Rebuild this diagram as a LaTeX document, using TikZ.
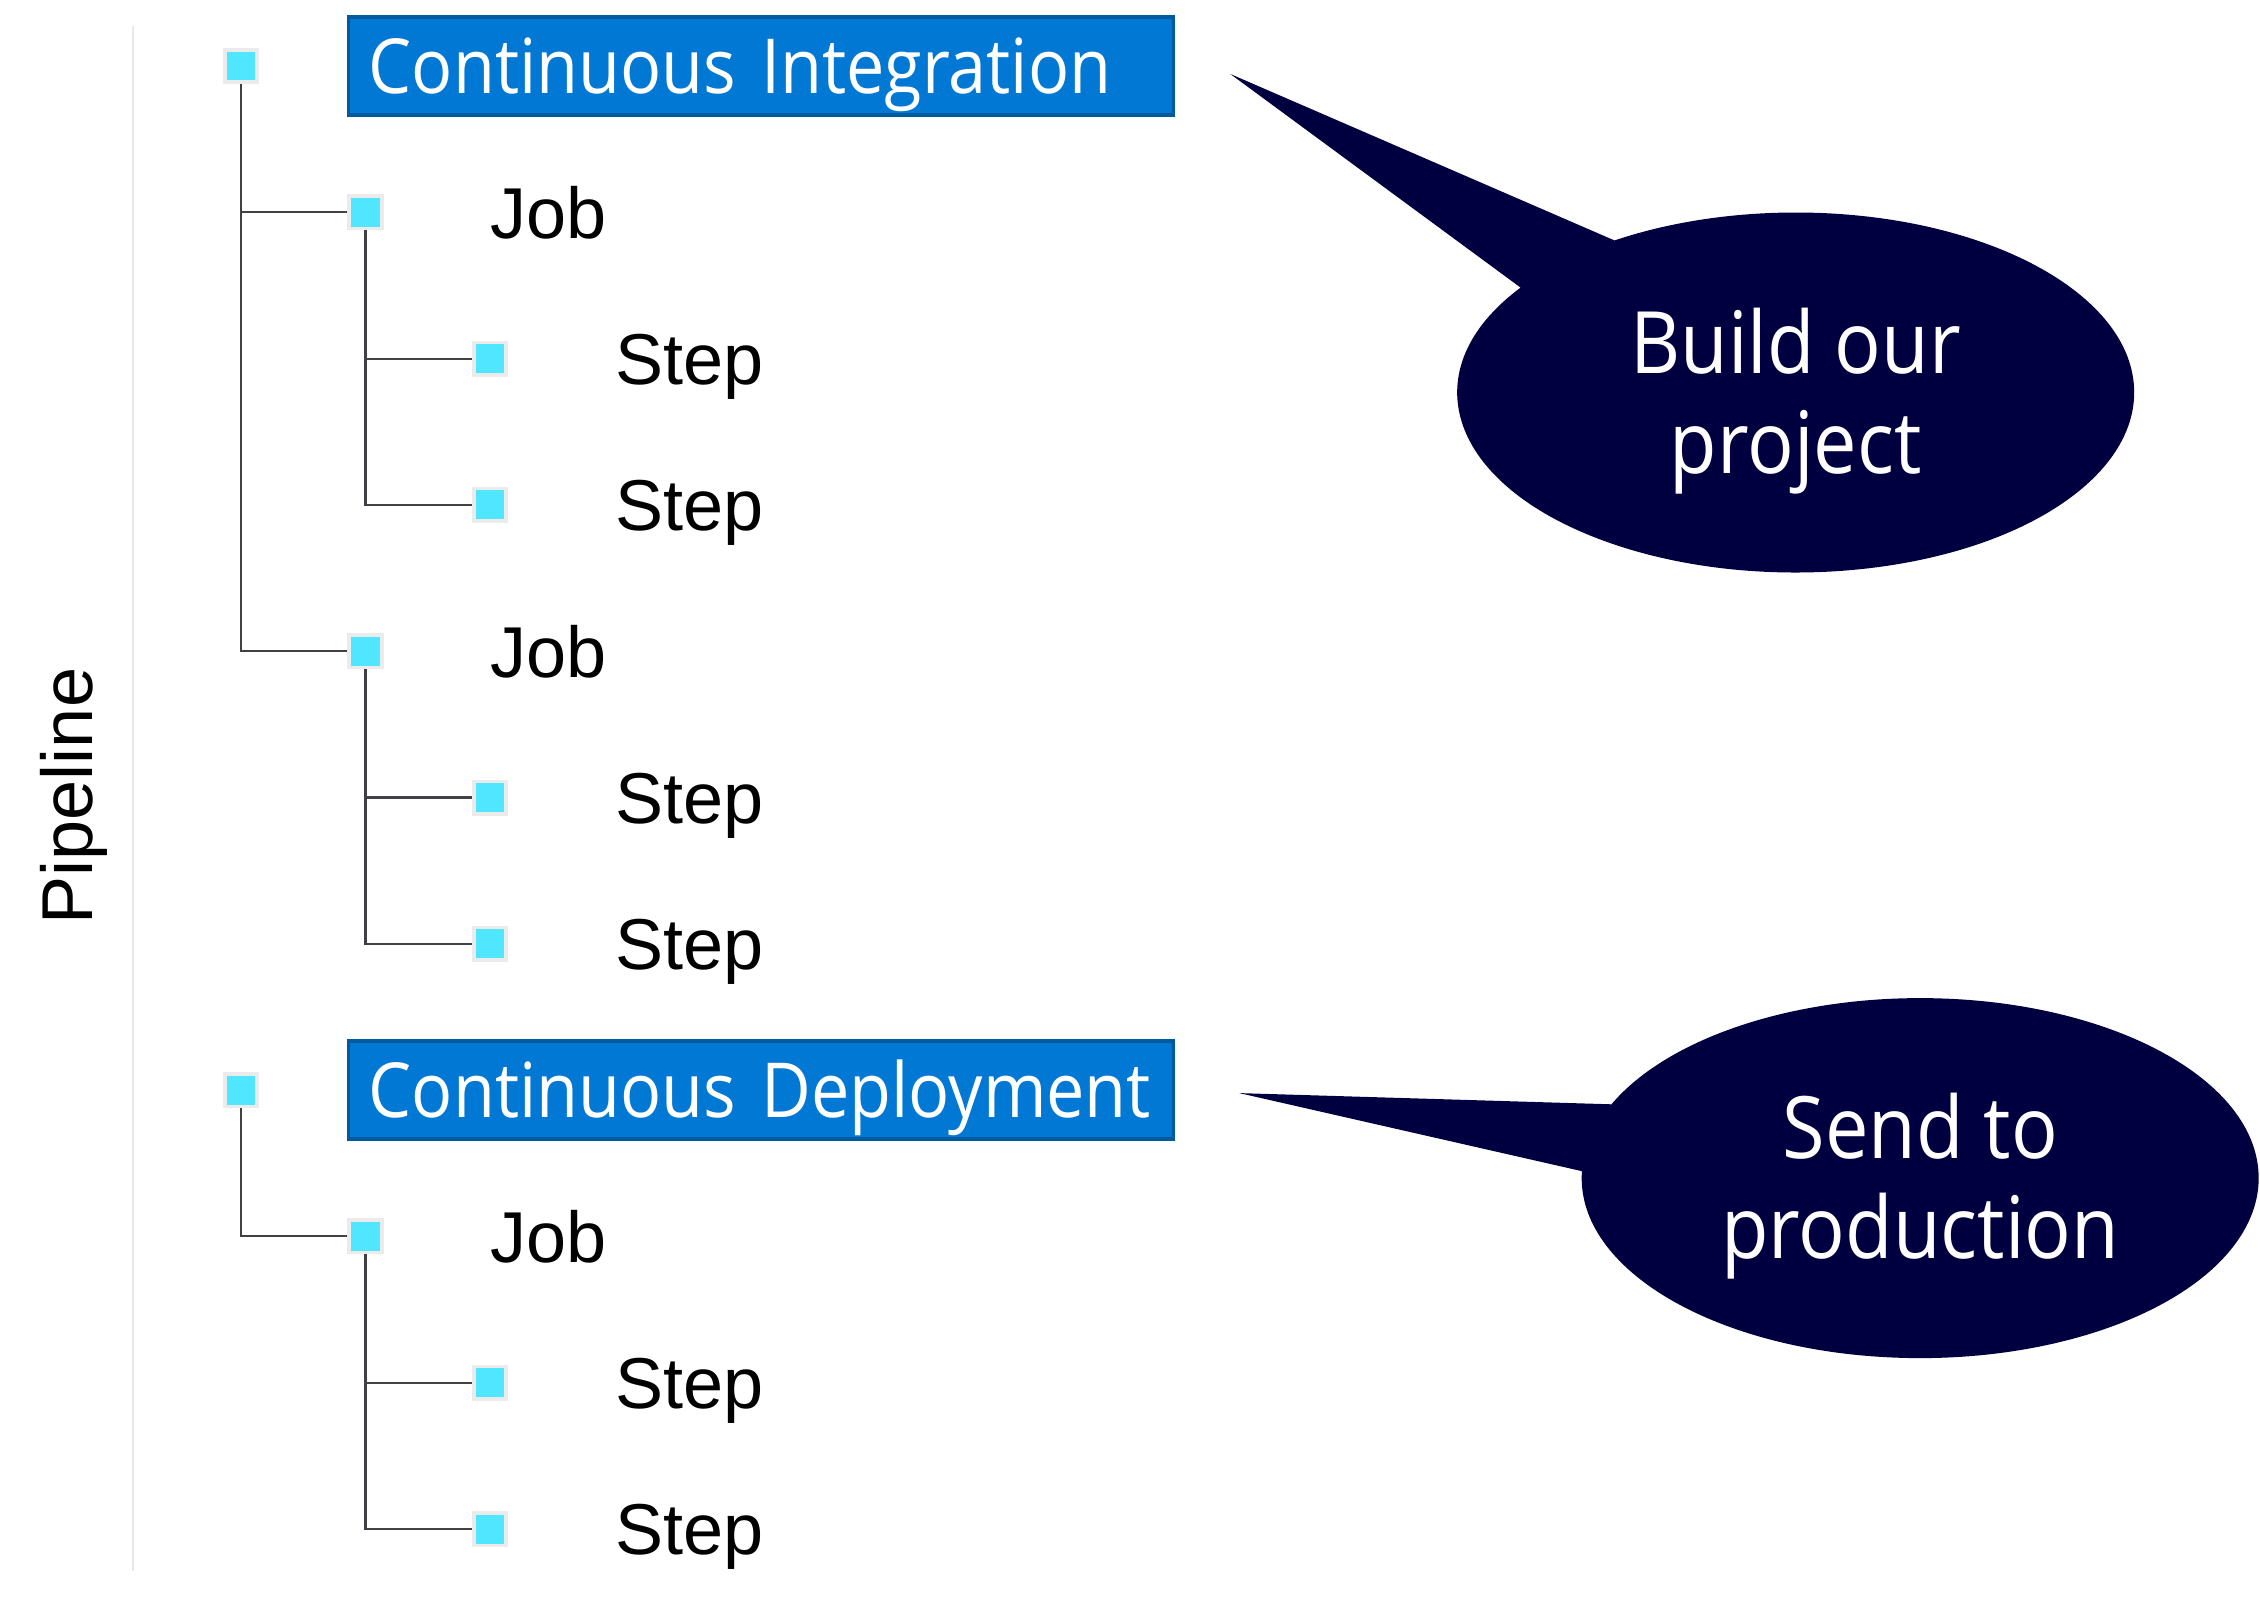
\documentclass[tikz,border=0pt]{standalone}
\usepackage{fontspec}
\setmainfont{Liberation Sans}
\newfontfamily\segoe[FakeStretch=0.9]{Open Sans}
\usetikzlibrary{shapes,shapes.callouts,positioning}
\definecolor{azure}{RGB}{0,120,212}
\definecolor{azuredark}{RGB}{0,90,158}
\definecolor{bubblenavy}{RGB}{0,0,64}
\definecolor{sqcyan}{RGB}{80,230,255}
\definecolor{wiregray}{RGB}{64,64,70}
\colorlet{rim}{black!8}
\colorlet{sepgray}{black!9}
\tikzstyle{sq}=[draw=rim,line width=1pt,fill=sqcyan,minimum size=.325cm,inner sep=0pt]
\tikzstyle{lbl}=[inner sep=0pt,text height=14.7pt,text depth=0pt,
  font=\fontsize{20.5}{24}\selectfont]
\tikzstyle{stage}=[draw=azuredark,line width=.95pt,fill=azure,text=white,
  minimum height=.98cm,text width=7.85cm,inner xsep=.2cm,align=left,
  text height=15.4pt,text depth=0pt,font=\segoe\fontsize{21.6}{26}\selectfont]
\tikzstyle{bubble}=[ellipse callout,fill=bubblenavy,text=white,
  minimum width=6.77cm,minimum height=3.6cm,inner sep=0pt,
  callout pointer arc=22,align=center,text height=46pt,text depth=0pt,
  font=\segoe\fontsize{24.5}{28.5}\selectfont]

\begin{document}
\begin{tikzpicture}[node distance=1.463cm and 1.245cm, on grid]
  \tikzstyle{wire}=[draw=wiregray,line width=.6pt]
  \useasboundingbox (0,0) rectangle (22.6,-16.19);

  \coordinate (septop) at (1.33,-.26);
  \coordinate (sepbot) at (1.33,-15.71);
  \draw[sepgray,line width=.75pt] (septop) -- (sepbot);
  \node[lbl,rotate=90] (pipe) at (.67,-7.96) {Pipeline};

  \node[sq] (c0) at (2.41,-.66) {};
  \node[stage, right=1.06cm of c0, anchor=west] (ci) {Continuous Integration};

  \node[sq, below right=of c0] (j1) {};
  \node[lbl, right=of j1, anchor=west] (jt1) {Job};
  \node[sq, below right=of j1] (s11) {};
  \node[lbl, right=of s11, anchor=west] (st11) {Step};
  \node[sq, below=of s11] (s12) {};
  \node[lbl, right=of s12, anchor=west] (st12) {Step};

  \node[sq, below left=of s12] (j2) {};
  \node[lbl, right=of j2, anchor=west] (jt2) {Job};
  \node[sq, below right=of j2] (s21) {};
  \node[lbl, right=of s21, anchor=west] (st21) {Step};
  \node[sq, below=of s21] (s22) {};
  \node[lbl, right=of s22, anchor=west] (st22) {Step};

  \node[sq, below left=1.463cm and 2.49cm of s22] (d0) {};
  \node[stage, right=1.06cm of d0, anchor=west] (cd) {Continuous Deployment};

  \node[sq, below right=of d0] (j3) {};
  \node[lbl, right=of j3, anchor=west] (jt3) {Job};
  \node[sq, below right=of j3] (s31) {};
  \node[lbl, right=of s31, anchor=west] (st31) {Step};
  \node[sq, below=of s31] (s32) {};
  \node[lbl, right=of s32, anchor=west] (st32) {Step};

  \draw[wire] (c0) |- (j1) (c0) |- (j2);
  \draw[wire] (j1) |- (s11) (j1) |- (s12);
  \draw[wire] (j2) |- (s21) (j2) |- (s22);
  \draw[wire] (d0) |- (j3);
  \draw[wire] (j3) |- (s31) (j3) |- (s32);

  % callouts
  \coordinate[right=.55cm of ci.east, yshift=-.08cm] (citip);
  \coordinate[right=.64cm of cd.east, yshift=-.03cm] (cdtip);
  \node[bubble, below right=3.265cm and 10.345cm of ci,
    callout absolute pointer=(citip)] (build) {Build our\\project};
  \node[bubble, below right=.88cm and 11.59cm of cd,
    callout absolute pointer=(cdtip)] (send) {Send to\\production};
\end{tikzpicture}
\end{document}
